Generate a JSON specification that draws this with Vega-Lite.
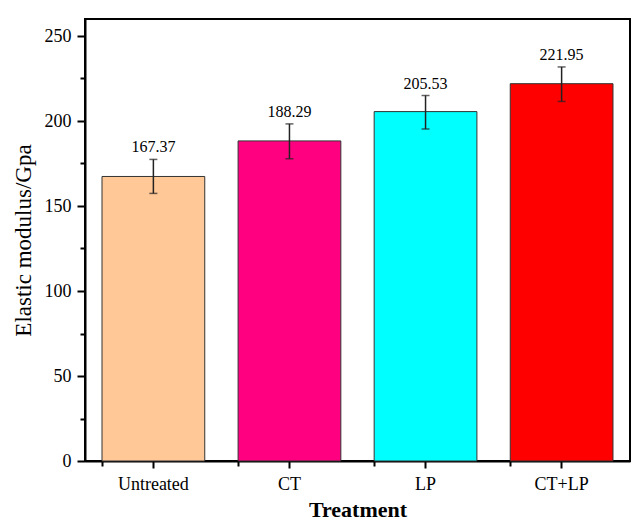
{
  "$schema": "https://vega.github.io/schema/vega-lite/v6.json",
  "autosize": "none",
  "padding": {"left": 85, "top": 19, "right": 3, "bottom": 59},
  "width": 545,
  "height": 442,
  "background": "white",
  "config": {
    "font": "Liberation Serif",
    "view": {"stroke": "black", "strokeWidth": 2},
    "axis": {
      "domainColor": "black",
      "domainWidth": 2,
      "tickColor": "black",
      "tickWidth": 2,
      "labelFont": "Liberation Serif",
      "labelFontSize": 18,
      "labelColor": "black",
      "titleFont": "Liberation Serif",
      "titleColor": "black",
      "grid": false
    }
  },
  "data": {
    "values": [
      {"treatment": "Untreated", "value": 167.37, "lower": 157.4, "upper": 177.4, "label": "167.37"},
      {"treatment": "CT", "value": 188.29, "lower": 177.8, "upper": 198.3, "label": "188.29"},
      {"treatment": "LP", "value": 205.53, "lower": 195.3, "upper": 215.0, "label": "205.53"},
      {"treatment": "CT+LP", "value": 221.95, "lower": 211.5, "upper": 231.8, "label": "221.95"}
    ]
  },
  "resolve": {"axis": {"x": "independent", "y": "independent"}},
  "layer": [
    {
      "mark": {"type": "bar", "stroke": "#333333", "strokeWidth": 1},
      "encoding": {
        "x": {
          "field": "treatment",
          "type": "nominal",
          "sort": ["Untreated", "CT", "LP", "CT+LP"],
          "scale": {"paddingInner": 0.245, "paddingOuter": 0.125},
          "axis": {
            "orient": "bottom",
            "title": "Treatment",
            "titleFontSize": 22,
            "titleFontWeight": "bold",
            "titlePadding": 6,
            "labelAngle": 0,
            "tickSize": 7,
            "labelPadding": 7
          }
        },
        "y": {
          "field": "value",
          "type": "quantitative",
          "scale": {"domain": [0, 250]},
          "axis": {
            "orient": "left",
            "title": "Elastic modulus/Gpa",
            "titleFontSize": 23,
            "titleFontWeight": "normal",
            "titlePadding": 9,
            "values": [0, 50, 100, 150, 200, 250],
            "tickSize": 8,
            "labelPadding": 6
          }
        },
        "color": {
          "field": "treatment",
          "type": "nominal",
          "scale": {
            "domain": ["Untreated", "CT", "LP", "CT+LP"],
            "range": ["#FFC896", "#FF0080", "#00FFFF", "#FF0000"]
          },
          "legend": null
        }
      }
    },
    {
      "mark": {"type": "rule", "color": "#222222", "strokeWidth": 1.5},
      "encoding": {
        "x": {
          "field": "treatment",
          "type": "nominal",
          "sort": ["Untreated", "CT", "LP", "CT+LP"],
          "axis": {
            "orient": "bottom",
            "bandPosition": 0,
            "labels": false,
            "title": null,
            "domain": false,
            "tickSize": 5
          }
        },
        "y": {
          "field": "lower",
          "type": "quantitative",
          "axis": {
            "orient": "left",
            "values": [25, 75, 125, 175, 225],
            "labels": false,
            "title": null,
            "domain": false,
            "tickSize": 5
          }
        },
        "y2": {"field": "upper"}
      }
    },
    {
      "mark": {"type": "tick", "color": "#222222", "size": 8, "thickness": 1.5},
      "encoding": {
        "x": {"field": "treatment", "type": "nominal", "sort": ["Untreated", "CT", "LP", "CT+LP"], "axis": null},
        "y": {"field": "lower", "type": "quantitative", "axis": null}
      }
    },
    {
      "mark": {"type": "tick", "color": "#222222", "size": 8, "thickness": 1.5},
      "encoding": {
        "x": {"field": "treatment", "type": "nominal", "sort": ["Untreated", "CT", "LP", "CT+LP"], "axis": null},
        "y": {"field": "upper", "type": "quantitative", "axis": null}
      }
    },
    {
      "mark": {"type": "text", "baseline": "bottom", "dy": -4, "fontSize": 16, "font": "Liberation Serif", "color": "black"},
      "encoding": {
        "x": {"field": "treatment", "type": "nominal", "sort": ["Untreated", "CT", "LP", "CT+LP"], "axis": null},
        "y": {"field": "upper", "type": "quantitative", "axis": null},
        "text": {"field": "label", "type": "nominal"}
      }
    }
  ]
}
